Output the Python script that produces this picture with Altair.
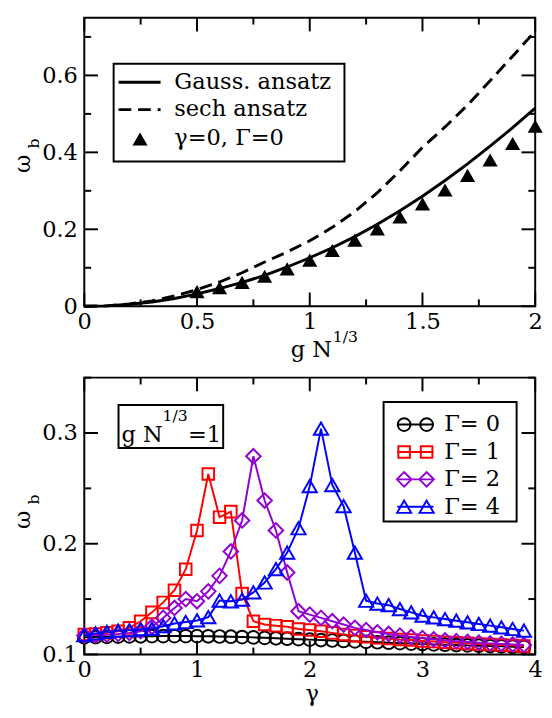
import altair as alt
import pandas as pd

FONT = "DejaVu Serif"
FS = 23
SUB = 16

# ---------------- top panel data ----------------
g_curve = [0.0, 0.1, 0.2, 0.3, 0.4, 0.5, 0.6, 0.7, 0.8, 0.9, 1.0,
           1.1, 1.2, 1.3, 1.4, 1.5, 1.6, 1.7, 1.8, 1.9, 2.0]
gauss = [0.0, 0.001, 0.005, 0.011, 0.02, 0.032, 0.046, 0.062, 0.08, 0.102, 0.126,
         0.152, 0.181, 0.213, 0.248, 0.286, 0.327, 0.37, 0.416, 0.464, 0.515]
sech = [0.0, 0.001, 0.006, 0.014, 0.027, 0.043, 0.063, 0.087, 0.115, 0.141, 0.17,
        0.205, 0.246, 0.295, 0.352, 0.413, 0.466, 0.523, 0.586, 0.65, 0.715]
g_pts = [0.5, 0.6, 0.7, 0.8, 0.9, 1.0, 1.1, 1.2, 1.3, 1.4, 1.5, 1.6, 1.7, 1.8, 1.9, 2.0]
w_pts = [0.038, 0.048, 0.062, 0.078, 0.097, 0.12, 0.145, 0.172, 0.201, 0.232,
         0.266, 0.302, 0.34, 0.38, 0.423, 0.468]

# ---------------- bottom panel data ----------------
gamma = [0.0, 0.1, 0.2, 0.3, 0.4, 0.5, 0.6, 0.7, 0.8, 0.9,
         1.0, 1.1, 1.2, 1.3, 1.4, 1.5, 1.6, 1.7, 1.8, 1.9,
         2.0, 2.1, 2.2, 2.3, 2.4, 2.5, 2.6, 2.7, 2.8, 2.9,
         3.0, 3.1, 3.2, 3.3, 3.4, 3.5, 3.6, 3.7, 3.8, 3.9]
w_G0 = [0.1155, 0.1157, 0.1159, 0.1161, 0.1163, 0.1164, 0.1165, 0.1166, 0.1166, 0.1166,
        0.1165, 0.1164, 0.1162, 0.116, 0.1157, 0.1154, 0.115, 0.1146, 0.1142, 0.1138,
        0.1134, 0.113, 0.1126, 0.1122, 0.1118, 0.1114, 0.111, 0.1106, 0.1102, 0.1098,
        0.1094, 0.1091, 0.1088, 0.1085, 0.1082, 0.1079, 0.1076, 0.1073, 0.107, 0.1068]
w_G1 = [0.118, 0.1185, 0.1195, 0.121, 0.124, 0.13, 0.138, 0.147, 0.158, 0.177,
        0.212, 0.263, 0.224, 0.229, 0.155, 0.13, 0.127, 0.126, 0.125, 0.123,
        0.122, 0.121, 0.1195, 0.118, 0.117, 0.116, 0.115, 0.1143, 0.1135, 0.113,
        0.1122, 0.1116, 0.111, 0.1105, 0.11, 0.1095, 0.109, 0.1085, 0.108, 0.1075]
w_G2 = [0.117, 0.1173, 0.1178, 0.1185, 0.1195, 0.121, 0.125, 0.133, 0.142, 0.15,
        0.148, 0.157, 0.171, 0.193, 0.221, 0.279, 0.239, 0.212, 0.174, 0.139,
        0.136, 0.133, 0.13, 0.127, 0.124, 0.122, 0.12, 0.1185, 0.117, 0.1158,
        0.1147, 0.1137, 0.1128, 0.112, 0.1113, 0.1106, 0.11, 0.1095, 0.109, 0.1086]
w_G4 = [0.1174, 0.119, 0.1204, 0.1215, 0.122, 0.1228, 0.1234, 0.1255, 0.128, 0.1293,
        0.1307, 0.1337, 0.1487, 0.148, 0.1495, 0.156, 0.165, 0.177, 0.192, 0.214,
        0.252, 0.304, 0.253, 0.234, 0.192, 0.1485, 0.146, 0.1445, 0.141, 0.138,
        0.135, 0.1335, 0.132, 0.1305, 0.129, 0.1275, 0.126, 0.1245, 0.123, 0.1215]

series_labels = ["Γ= 0", "Γ= 1", "Γ= 2", "Γ= 4"]
series_colors = ["black", "#ff0000", "#9400d3", "#0000ff"]
series_shapes = ["circle", "square", "diamond", "triangle-up"]
series_sizes = [170, 140, 220, 210]

# tick positions
top_x_major = [0, 0.5, 1, 1.5, 2]
top_x_minor = [0.25, 0.75, 1.25, 1.75]
top_y_major = [0, 0.2, 0.4, 0.6]
top_y_minor = [0.1, 0.3, 0.5, 0.7]
bot_x_major = [0, 1, 2, 3, 4]
bot_x_minor = [0.5, 1.5, 2.5, 3.5]
bot_y_major = [0.1, 0.2, 0.3]
bot_y_minor = [0.15, 0.25, 0.35]

W = 461
H1 = 295
H2 = 283
MAJ, MIN = 14, 7

one = pd.DataFrame({"a": [0]})


def xaxis(vals):
    return alt.Axis(values=vals, format="~g", title=None, ticks=False, domain=False, grid=False,
                    labelFont=FONT, labelFontSize=FS, labelColor="black", labelPadding=5,
                    labelFlush=False, labelOverlap=False)


def yaxis(vals):
    return alt.Axis(values=vals, format="~g", title=None, ticks=False, domain=False, grid=False,
                    labelFont=FONT, labelFontSize=FS, labelColor="black", labelPadding=7,
                    labelOverlap=False, labelBaseline="middle")


def frame_ticks(xmaj, xmin, ymaj, ymin, xsc, ysc, H, xax, yax):
    layers = []
    for vals, L in ((xmaj, MAJ), (xmin, MIN)):
        base = alt.Chart(pd.DataFrame({"t": vals})).mark_rule(color="black", strokeWidth=2)
        xe = alt.X("t:Q", scale=xsc, axis=xax)
        layers.append(base.encode(x=xe, y=alt.value(H), y2=alt.value(H - L)))
        layers.append(base.encode(x=xe, y=alt.value(0), y2=alt.value(L)))
    for vals, L in ((ymaj, MAJ), (ymin, MIN)):
        base = alt.Chart(pd.DataFrame({"t": vals})).mark_rule(color="black", strokeWidth=2)
        ye = alt.Y("t:Q", scale=ysc, axis=yax)
        layers.append(base.encode(y=ye, x=alt.value(0), x2=alt.value(L)))
        layers.append(base.encode(y=ye, x=alt.value(W), x2=alt.value(W - L)))
    return layers


def txt(s, x, y, size=FS, align="left", baseline="alphabetic", angle=0):
    kw = dict(text=s, font=FONT, fontSize=size, align=align, baseline=baseline, color="black")
    if angle:
        kw["angle"] = angle
    return alt.Chart(one).mark_text(**kw).encode(x=alt.value(x), y=alt.value(y))


# ================= top panel =================
xs1 = alt.Scale(domain=[0, 2], nice=False, zero=False)
ys1 = alt.Scale(domain=[0, 0.75], nice=False, zero=False)
xa1 = xaxis(top_x_major)
ya1 = yaxis(top_y_major)

curves = pd.DataFrame({"g": g_curve, "gauss": gauss, "sech": sech})
pts = pd.DataFrame({"g": g_pts, "w": w_pts})

gauss_line = alt.Chart(curves).mark_line(color="black", strokeWidth=3).encode(
    x=alt.X("g:Q", scale=xs1, axis=xa1), y=alt.Y("gauss:Q", scale=ys1, axis=ya1))
sech_line = alt.Chart(curves).mark_line(color="black", strokeWidth=3, strokeDash=[13, 7]).encode(
    x=alt.X("g:Q", scale=xs1, axis=xa1), y=alt.Y("sech:Q", scale=ys1, axis=ya1))
tri = alt.Chart(pts).mark_point(shape="triangle-up", filled=True, color="black", size=240, opacity=1).encode(
    x=alt.X("g:Q", scale=xs1, axis=xa1), y=alt.Y("w:Q", scale=ys1, axis=ya1))

top_legend = [
    alt.Chart(one).mark_rect(fill="white", stroke="black", strokeWidth=2).encode(
        x=alt.value(30), x2=alt.value(266), y=alt.value(47), y2=alt.value(147)),
    alt.Chart(one).mark_rule(color="black", strokeWidth=3).encode(
        x=alt.value(35), x2=alt.value(78), y=alt.value(66)),
    alt.Chart(one).mark_rule(color="black", strokeWidth=3, strokeDash=[13, 7]).encode(
        x=alt.value(35), x2=alt.value(78), y=alt.value(94)),
    alt.Chart(one).mark_point(shape="triangle-up", filled=True, color="black", size=240, opacity=1).encode(
        x=alt.value(57), y=alt.value(124)),
    txt("Gauss. ansatz", 92, 66, baseline="middle"),
    txt("sech ansatz", 92, 94, baseline="middle"),
    txt("γ=0, Γ=0", 92, 123, baseline="middle"),
]

top_titles = [
    txt("g N", 211, 347),
    txt("1/3", 254, 332, size=SUB),
    txt("ω", -62, H1 / 2 + 2, angle=270, align="center", baseline="middle"),
    txt("b", -51, H1 / 2 - 19, size=SUB, angle=270, align="center", baseline="middle"),
]

top = alt.layer(
    *frame_ticks(top_x_major, top_x_minor, top_y_major, top_y_minor, xs1, ys1, H1, xa1, ya1),
    gauss_line, sech_line, tri, *top_legend, *top_titles
).properties(width=W, height=H1)

# ================= bottom panel =================
xs2 = alt.Scale(domain=[0, 4], nice=False, zero=False)
ys2 = alt.Scale(domain=[0.1, 0.35], nice=False, zero=False)
xa2 = xaxis(bot_x_major)
ya2 = yaxis(bot_y_major)

series_vals = [w_G0, w_G1, w_G2, w_G4]
bottom_layers = []
for vals, col, shp, sz in zip(series_vals, series_colors, series_shapes, series_sizes):
    df = pd.DataFrame({"gamma": gamma, "w": vals})
    xe = alt.X("gamma:Q", scale=xs2, axis=xa2)
    ye = alt.Y("w:Q", scale=ys2, axis=ya2)
    bottom_layers.append(alt.Chart(df).mark_line(color=col, strokeWidth=2).encode(x=xe, y=ye))
    bottom_layers.append(alt.Chart(df).mark_point(shape=shp, filled=False, color=col, size=sz,
                                                  strokeWidth=2, opacity=1).encode(x=xe, y=ye))

bot_legend = [alt.Chart(one).mark_rect(fill="white", stroke="black", strokeWidth=2).encode(
    x=alt.value(306), x2=alt.value(442), y=alt.value(25), y2=alt.value(147))]
for k, (lab, col, shp, sz) in enumerate(zip(series_labels, series_colors, series_shapes, series_sizes)):
    yy = 48 + 28 * k
    bot_legend.append(alt.Chart(one).mark_rule(color=col, strokeWidth=2).encode(
        x=alt.value(320), x2=alt.value(357), y=alt.value(yy)))
    for xx in (327, 350):
        bot_legend.append(alt.Chart(one).mark_point(shape=shp, filled=False, color=col, size=sz,
                                                    strokeWidth=2, opacity=1).encode(
            x=alt.value(xx), y=alt.value(yy)))
    bot_legend.append(txt(lab, 368, yy, baseline="middle"))

annot = [
    alt.Chart(one).mark_rect(fill="white", stroke="black", strokeWidth=2).encode(
        x=alt.value(35), x2=alt.value(142), y=alt.value(28), y2=alt.value(72)),
    txt("g N", 38, 66),
    txt("1/3", 80, 44, size=SUB),
    txt("=1", 106, 66),
]

bot_titles = [
    txt("γ", 233, 331, align="center"),
    txt("ω", -62, H2 / 2 + 4, angle=270, align="center", baseline="middle"),
    txt("b", -51, H2 / 2 - 17, size=SUB, angle=270, align="center", baseline="middle"),
]

bottom = alt.layer(
    *frame_ticks(bot_x_major, bot_x_minor, bot_y_major, bot_y_minor, xs2, ys2, H2, xa2, ya2),
    *bottom_layers, *bot_legend, *annot, *bot_titles
).properties(width=W, height=H2)

chart = alt.vconcat(top, bottom, spacing=13).properties(
    padding={"left": 4, "top": 0, "right": 0, "bottom": 0}, background="white"
).configure_view(stroke="black", strokeWidth=2)

chart.save("out.html", embed_options={"renderer": "svg", "actions": False})
